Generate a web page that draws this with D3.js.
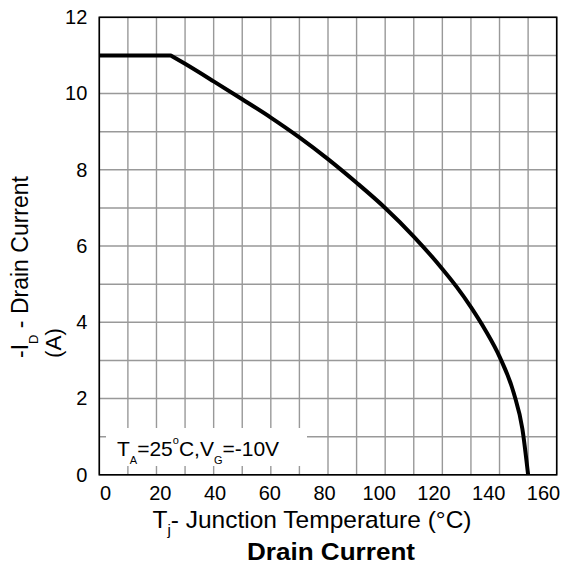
<!DOCTYPE html>
<html>
<head>
<meta charset="utf-8">
<script src="https://cdn.jsdelivr.net/npm/d3@7"></script>
<style>
  body { margin: 0; background: #fff; }
  svg text { font-family: "Liberation Sans", Arial, sans-serif; fill: #000; }
</style>
</head>
<body>
<svg id="chart" width="563" height="568"></svg>
<script>
// junction temperature (°C) and drain current (A)
const temps    = [0, 25, 30, 40, 50, 60, 70, 80, 90, 100, 110, 120, 125, 130, 135, 140, 145, 148, 150];
const currents = [11, 11, 10.78, 10.32, 9.85, 9.37, 8.85, 8.28, 7.66, 7.0, 6.25, 5.4, 4.93, 4.4, 3.8, 3.1, 2.14, 1.2, 0];

const xTicks = [0, 20, 40, 60, 80, 100, 120, 140, 160];
const yTicks = [0, 2, 4, 6, 8, 10, 12];
const xGrid = d3.range(0, 161, 10);
const yGrid = d3.range(0, 13, 1);

const svg = d3.select("#chart");
const plotL = 99.3, plotR = 556.7, plotT = 17.3, plotB = 474.8;

const x = d3.scaleLinear().domain([0, 160]).range([plotL, plotR]);
const y = d3.scaleLinear().domain([0, 12]).range([plotB, plotT]);
// tick labels sit a bit off the grid in the original sheet
const xLabel = d3.scaleLinear().domain([0, 160]).range([105, 543]);

// grid
svg.append("g")
  .selectAll("line")
  .data(xGrid)
  .join("line")
    .attr("x1", d => x(d)).attr("x2", d => x(d))
    .attr("y1", plotT).attr("y2", plotB)
    .attr("stroke", "#999").attr("stroke-width", 1.4);

svg.append("g")
  .selectAll("line")
  .data(yGrid)
  .join("line")
    .attr("x1", plotL).attr("x2", plotR)
    .attr("y1", d => y(d)).attr("y2", d => y(d))
    .attr("stroke", "#999").attr("stroke-width", 1.4);

// legend box hides the grid behind it
svg.append("rect")
  .attr("x", 106).attr("y", 428)
  .attr("width", 201).attr("height", 38)
  .attr("fill", "#fff");

const leg = svg.append("text")
  .attr("x", 117).attr("y", 456)
  .attr("font-size", 21);
leg.append("tspan").text("T");
leg.append("tspan").attr("font-size", 11).attr("dy", 8).text("A");
leg.append("tspan").attr("dy", -8).text("=25");
leg.append("tspan").attr("font-size", 11).attr("dy", -12).text("o");
leg.append("tspan").attr("dy", 12).text("C,V");
leg.append("tspan").attr("font-size", 11).attr("dy", 8).text("G");
leg.append("tspan").attr("dy", -8).text("=-10V");

// frame
svg.append("rect")
  .attr("x", plotL).attr("y", plotT)
  .attr("width", plotR - plotL).attr("height", plotB - plotT)
  .attr("fill", "none").attr("stroke", "#000").attr("stroke-width", 1.6);

// curve: flat limit up to 25 °C, then the smooth derating part
const pts = temps.map((t, i) => [t, currents[i]]);
const knee = temps.indexOf(25);

const flat = d3.line()
  .x(d => x(d[0]))
  .y(d => y(d[1]));

const derate = d3.line()
  .x(d => x(d[0]))
  .y(d => y(d[1]))
  .curve(d3.curveMonotoneX);

svg.append("path")
  .attr("d", flat(pts.slice(0, knee + 1)) + derate(pts.slice(knee)).replace(/^M/, "L"))
  .attr("fill", "none")
  .attr("stroke", "#000")
  .attr("stroke-width", 4)
  .attr("stroke-linejoin", "round");

// axes (labels only)
const xAxis = svg.append("g")
  .attr("transform", `translate(0,${plotB})`)
  .call(d3.axisBottom(xLabel).tickValues(xTicks).tickSize(0).tickPadding(11));
xAxis.select(".domain").remove();
xAxis.selectAll("text").attr("font-size", 20).attr("font-family", null);

const yAxis = svg.append("g")
  .attr("transform", `translate(${plotL},0)`)
  .call(d3.axisLeft(y).tickValues(yTicks).tickSize(0).tickPadding(12));
yAxis.select(".domain").remove();
yAxis.selectAll("text").attr("font-size", 20).attr("font-family", null);

// axis titles
const xt = svg.append("text")
  .attr("x", 312).attr("y", 528)
  .attr("text-anchor", "middle")
  .attr("font-size", 24.5);
xt.append("tspan").text("T");
xt.append("tspan").attr("font-size", 15).attr("dy", 7).text("j");
xt.append("tspan").attr("dy", -7).text("- Junction Temperature (°C)");

const yt = svg.append("text")
  .attr("transform", "translate(28,267) rotate(-90)")
  .attr("text-anchor", "middle")
  .attr("font-size", 23);
yt.append("tspan").text("-I");
yt.append("tspan").attr("font-size", 13).attr("dy", 10).text("D");
yt.append("tspan").attr("dy", -10).text(" - Drain Current");

svg.append("text")
  .attr("transform", "translate(61,343) rotate(-90)")
  .attr("text-anchor", "middle")
  .attr("font-size", 22.5)
  .text("(A)");

svg.append("text")
  .attr("x", 331).attr("y", 560)
  .attr("text-anchor", "middle")
  .attr("font-size", 24)
  .attr("font-weight", "bold")
  .attr("textLength", 168)
  .attr("lengthAdjust", "spacingAndGlyphs")
  .text("Drain Current");
</script>
</body>
</html>
